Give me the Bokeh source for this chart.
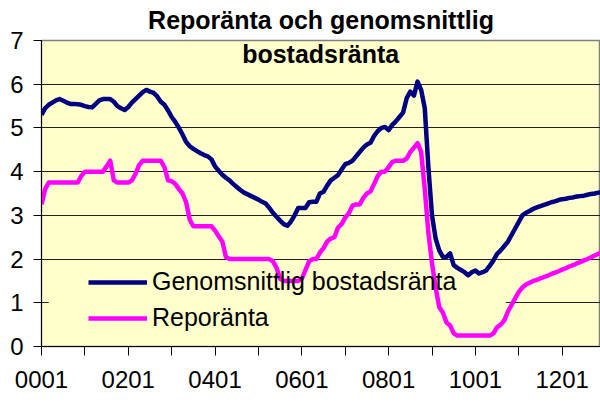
from bokeh.plotting import figure
from bokeh.models import Range1d, FixedTicker, Legend, LegendItem, Label, BoxAnnotation
from bokeh.embed import file_html
from bokeh.resources import INLINE

title_lines = ["Reporänta och genomsnittlig", "bostadsränta"]
series_names = ["Genomsnittlig bostadsränta", "Reporänta"]
years = list(range(2000, 2013))
tick_labels = ["0001", "0201", "0401", "0601", "0801", "1001", "1201"]
y_ticks = [0, 1, 2, 3, 4, 5, 6, 7]

# Genomsnittlig bostadsränta, monthly 2000-01 .. 2012-12
bolan = [
    5.30, 5.45, 5.53, 5.58, 5.63, 5.66, 5.62, 5.58, 5.55, 5.55, 5.54, 5.53,
    5.50, 5.48, 5.47, 5.55, 5.63, 5.66, 5.66, 5.66, 5.60, 5.50, 5.45, 5.41,
    5.48, 5.58, 5.66, 5.74, 5.82, 5.87, 5.83, 5.80, 5.72, 5.60, 5.53, 5.40,
    5.25, 5.14, 5.00, 4.85, 4.68, 4.58, 4.52, 4.47, 4.42, 4.38, 4.35, 4.28,
    4.12, 4.02, 3.93, 3.86, 3.80, 3.72, 3.65, 3.58, 3.52, 3.48, 3.44, 3.40,
    3.36, 3.31, 3.27, 3.17, 3.06, 2.97, 2.88, 2.80, 2.76, 2.86, 3.00, 3.17,
    3.17, 3.17, 3.30, 3.31, 3.31, 3.50, 3.54, 3.68, 3.80, 3.86, 3.92, 4.05,
    4.17, 4.20, 4.25, 4.35, 4.45, 4.55, 4.62, 4.66, 4.82, 4.93, 5.00, 5.02,
    4.95, 5.07, 5.15, 5.25, 5.35, 5.68, 5.83, 5.74, 6.06, 5.87, 5.45, 4.10,
    3.00, 2.47, 2.20, 2.05, 2.05, 2.13, 1.86, 1.80, 1.75, 1.70, 1.63, 1.70,
    1.74, 1.67, 1.70, 1.74, 1.85, 1.97, 2.12, 2.20, 2.30, 2.40, 2.55, 2.70,
    2.85, 3.00, 3.06, 3.10, 3.15, 3.18, 3.21, 3.24, 3.27, 3.30, 3.32, 3.35,
    3.37, 3.38, 3.40, 3.41, 3.43, 3.44, 3.45, 3.47, 3.49, 3.50, 3.52, 3.53,
]

# Reporänta, monthly 2000-01 .. 2012-12
repo = [
    3.25, 3.60, 3.75, 3.75, 3.75, 3.75, 3.75, 3.75, 3.75, 3.75, 3.75, 3.90,
    4.00, 4.00, 4.00, 4.00, 4.00, 4.00, 4.12, 4.25, 3.80, 3.75, 3.75, 3.75,
    3.75, 3.80, 3.95, 4.15, 4.25, 4.25, 4.25, 4.25, 4.25, 4.25, 4.10, 3.80,
    3.78, 3.72, 3.60, 3.50, 3.30, 2.90, 2.75, 2.75, 2.75, 2.75, 2.75, 2.75,
    2.65, 2.52, 2.40, 2.05, 2.00, 2.00, 2.00, 2.00, 2.00, 2.00, 2.00, 2.00,
    2.00, 2.00, 2.00, 2.00, 1.95, 1.80, 1.55, 1.50, 1.50, 1.50, 1.50, 1.50,
    1.55, 1.75, 1.95, 2.00, 2.00, 2.15, 2.25, 2.40, 2.47, 2.50, 2.72, 2.80,
    2.95, 3.05, 3.22, 3.25, 3.25, 3.40, 3.50, 3.55, 3.72, 3.90, 4.00, 4.00,
    4.10, 4.22, 4.25, 4.25, 4.25, 4.30, 4.45, 4.55, 4.65, 4.45, 3.60, 2.60,
    1.90, 1.35, 0.90, 0.78, 0.55, 0.48, 0.30, 0.25, 0.25, 0.25, 0.25, 0.25,
    0.25, 0.25, 0.25, 0.25, 0.25, 0.30, 0.44, 0.50, 0.60, 0.80, 0.95, 1.10,
    1.25, 1.35, 1.42, 1.46, 1.50, 1.52, 1.56, 1.59, 1.62, 1.66, 1.69, 1.72,
    1.76, 1.79, 1.83, 1.86, 1.90, 1.93, 1.97, 2.00, 2.04, 2.08, 2.12, 2.16,
]

months = [f"{y % 100:02d}{m:02d}" for y in years for m in range(1, 13)][:len(repo)]
xs = list(range(len(months)))

FONT = "Liberation Sans"
BG = "#FFFFCC"

p = figure(width=600, height=403, output_backend="svg", toolbar_location=None,
           x_range=Range1d(0, 154.6), y_range=Range1d(0, 7),
           min_border_left=41, min_border_right=0, min_border_top=40, min_border_bottom=57,
           background_fill_color=BG, border_fill_color="white")

p.title.text = title_lines[0]
p.title.align = "center"
p.title.vertical_align = "top"
p.title.text_font = FONT
p.title.text_font_style = "bold"
p.title.text_font_size = "25px"
p.title.text_color = "black"
p.title.standoff = 9

p.outline_line_color = "#808080"
p.outline_line_width = 1.5

p.xgrid.visible = False
p.ygrid.grid_line_color = "#222222"
p.ygrid.grid_line_width = 1
p.ygrid.ticker = FixedTicker(ticks=y_ticks)

# plain background behind the legend entries (hides the grid line there)
p.add_layout(BoxAnnotation(left=2.0, right=128.4, bottom=0.2, top=1.88,
                           fill_color=BG, fill_alpha=1, line_alpha=0, level="underlay"))

r1 = p.line(xs, bolan, line_color="#000080", line_width=4.5, line_join="round")
r2 = p.line(xs, repo, line_color="#FF00FF", line_width=4.5, line_join="round")

# axes
year_ticks = [i for i, lab in enumerate(months) if lab.endswith("01")]
p.xaxis.ticker = FixedTicker(ticks=year_ticks)
p.xaxis.major_label_overrides = {i: (months[i] if months[i] in tick_labels else "") for i in year_ticks}
p.yaxis.ticker = FixedTicker(ticks=y_ticks)
for ax in (p.xaxis[0], p.yaxis[0]):
    ax.axis_line_color = "black"
    ax.axis_line_width = 1
    ax.major_tick_line_color = "black"
    ax.major_tick_in = 0
    ax.minor_tick_line_color = None
    ax.major_label_text_font = FONT
    ax.major_label_text_font_size = "24px"
    ax.major_label_text_color = "black"
p.xaxis.major_tick_out = 9
p.yaxis.major_tick_out = 8
p.xaxis.major_label_standoff = 15
p.yaxis.major_label_standoff = 10

legend = Legend(items=[LegendItem(label=series_names[0], renderers=[r1]),
                       LegendItem(label=series_names[1], renderers=[r2])],
                location=(42, 9), orientation="vertical",
                background_fill_alpha=0,
                border_line_alpha=0, padding=5, spacing=7, margin=0,
                glyph_width=59, glyph_height=28, label_height=28, label_width=348,
                label_standoff=5, label_text_font=FONT, label_text_font_size="25px",
                label_text_color="black")
p.add_layout(legend)

p.add_layout(Label(x=77.2, y=6.70, text=title_lines[1], text_align="center",
                   text_baseline="alphabetic", text_font=FONT, text_font_style="bold",
                   text_font_size="25px", text_color="black"))

open("out.html", "w").write(file_html(p, INLINE))
